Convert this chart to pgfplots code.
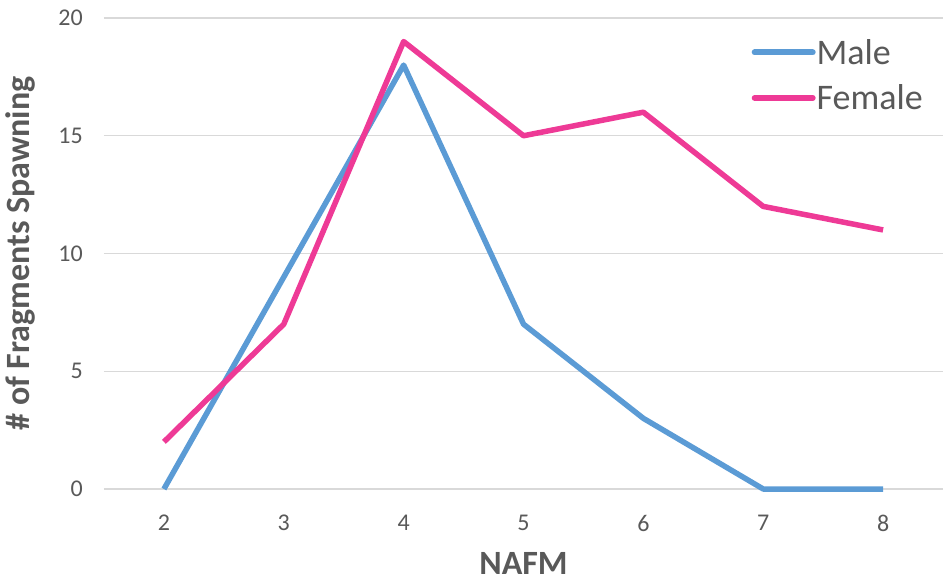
\documentclass[border=0pt]{standalone}
\usepackage{fontspec}
\setmainfont{Carlito}
\usepackage{pgfplots}
\pgfplotsset{compat=1.18}
\definecolor{maleblue}{HTML}{5B9BD5}
\definecolor{femalepink}{HTML}{EE3A96}
\definecolor{txtgray}{HTML}{595959}
\definecolor{gridgray}{HTML}{D9D9D9}
\begin{document}
\begin{tikzpicture}
\begin{axis}[
  name=ax,
  scale only axis,
  width=839pt, height=471pt,
  xmin=1.5, xmax=8.5, ymin=0, ymax=20,
  xtick={2,3,4,5,6,7,8},
  ytick={0,5,10,15,20},
  ymajorgrids,
  grid style={gridgray, line width=1.5pt},
  axis line style={draw=none},
  major tick length=0pt,
  clip=false,
  /pgf/number format/assume math mode=true,
  ticklabel style={font=\fontsize{24}{28}\selectfont, text=txtgray, inner sep=0pt},
  yticklabel style={anchor=east, xshift=-21pt},
  xticklabel style={anchor=north, yshift=-26pt},
  xlabel={NAFM},
  ylabel={\# of Fragments Spawning},
  label style={font=\bfseries\fontsize{34}{38}\selectfont, text=txtgray, inner sep=0pt},
  xlabel style={at={(axis description cs:0.5,0)}, anchor=center, yshift=-74pt},
  ylabel style={at={(axis description cs:0,0.5)}, anchor=center, yshift=84pt},
  legend style={at={(rel axis cs:1,1)}, anchor=north east, xshift=-19pt, yshift=-20pt,
    draw=none, fill=none, font=\fontsize{36}{40}\selectfont, text=txtgray,
    row sep=17pt, inner sep=0pt,
    nodes={inner sep=1pt}},
  legend cell align=left,
  legend image code/.code={\draw[#1, line width=6pt, line cap=round] (0pt,0pt) -- (58pt,0pt);},
]
\addplot[maleblue, line width=5.5pt, line join=round] coordinates {
  (2,0) (3,9) (4,18) (5,7) (6,3) (7,0) (8,0)
};
\addlegendentry{Male}
\addplot[femalepink, line width=5.5pt, line join=round] coordinates {
  (2,2) (3,7) (4,19) (5,15) (6,16) (7,12) (8,11)
};
\addlegendentry{Female}
\end{axis}
\pgfresetboundingbox
\path[use as bounding box] ([shift={(-104pt,-94pt)}]ax.south west) rectangle ([shift={(7pt,18pt)}]ax.north east);
\end{tikzpicture}
\end{document}
